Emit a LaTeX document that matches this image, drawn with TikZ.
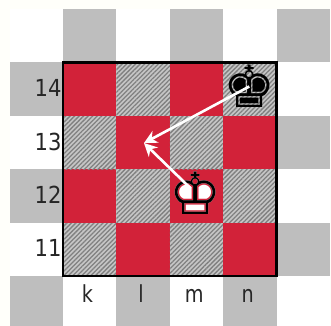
\documentclass[tikz,border=0pt]{standalone}
\usepackage{fontspec}
\usepackage{xcolor}
\setmainfont{DejaVu Sans}
\usetikzlibrary{arrows.meta}
\usetikzlibrary{patterns.meta}
\definecolor{boardred}{HTML}{D22239}
\definecolor{margingray}{HTML}{BEBEBE}
\tikzset{
    redsq/.style={fill=boardred},
    hatchsq/.style={pattern={Lines[angle=45,distance=1.7pt,line width=0.7pt]},pattern color=gray},
    rimsq/.style={fill=margingray},
    rank/.style={anchor=base east,inner sep=0pt,xscale=0.9,font=\fontsize{12.5pt}{12.5pt}\selectfont,text=black!85},
    file/.style={anchor=base,inner sep=0pt,xscale=0.82,font=\fontsize{12.5pt}{12.5pt}\selectfont,text=black!85},
    king/.style={inner sep=0pt,font=\fontsize{31pt}{31pt}\selectfont},
    move/.style={-{Stealth[length=7pt,width=7pt]},white,line width=1.4pt}
}
\begin{document}
\begin{tikzpicture}[scale=1]
        \useasboundingbox (-1.18,-0.936) rectangle (5.02,5.17);
        \fill[white!98!yellow] (-1.18,-0.936) rectangle (5.02,5.17);
        \fill[white] (-1,-0.936) rectangle (5,5);
        % squares round the board
        \foreach \x/\y in {0/4,2/4,4/4,-1/3,4/2,-1/1,4/0,-1/-1,1/-1,3/-1}{
            \fill[rimsq] (\x,{max(\y,-0.936)}) rectangle (\x+1,\y+1);
        }
        % the board
        \foreach \x in {0,...,3}{
            \foreach \y in {0,...,3}{
                \pgfmathparse{int(mod(\x+\y,2))}
                \ifnum\pgfmathresult=1
                    \fill[redsq] (\x,\y) rectangle (\x+1,\y+1);
                \else
                    \fill[gray!45] (\x,\y) rectangle (\x+1,\y+1);
                    \fill[hatchsq] (\x,\y) rectangle (\x+1,\y+1);
                \fi
            }
        }
        \draw[black,line width=1.2pt] (0,0) rectangle (4,4);
        % labels
        \foreach \n/\y in {11/0,12/1,13/2,14/3}{
            \node[rank] (rank\n) at (-0.02,\y+0.36) {\n};
        }
        \foreach \f/\x in {k/0,l/1,m/2,n/3}{
            \node[file] (file\f) at (\x+0.46,-0.505) {\f};
        }
        % kings and moves
        \coordinate (tgt) at (1.517,2.49);
        \node[king] (kingb) at (3.49,3.55) {♚};
        \node[king,text=white] (kingwbg) at (2.49,1.545) {♚};
        \node[king] (kingw) at (2.49,1.545) {♔};
        \draw[move] (kingb.center) -- (tgt);
        \draw[move,shorten <=4pt] (kingw.center) -- (tgt);
\end{tikzpicture}
\end{document}
